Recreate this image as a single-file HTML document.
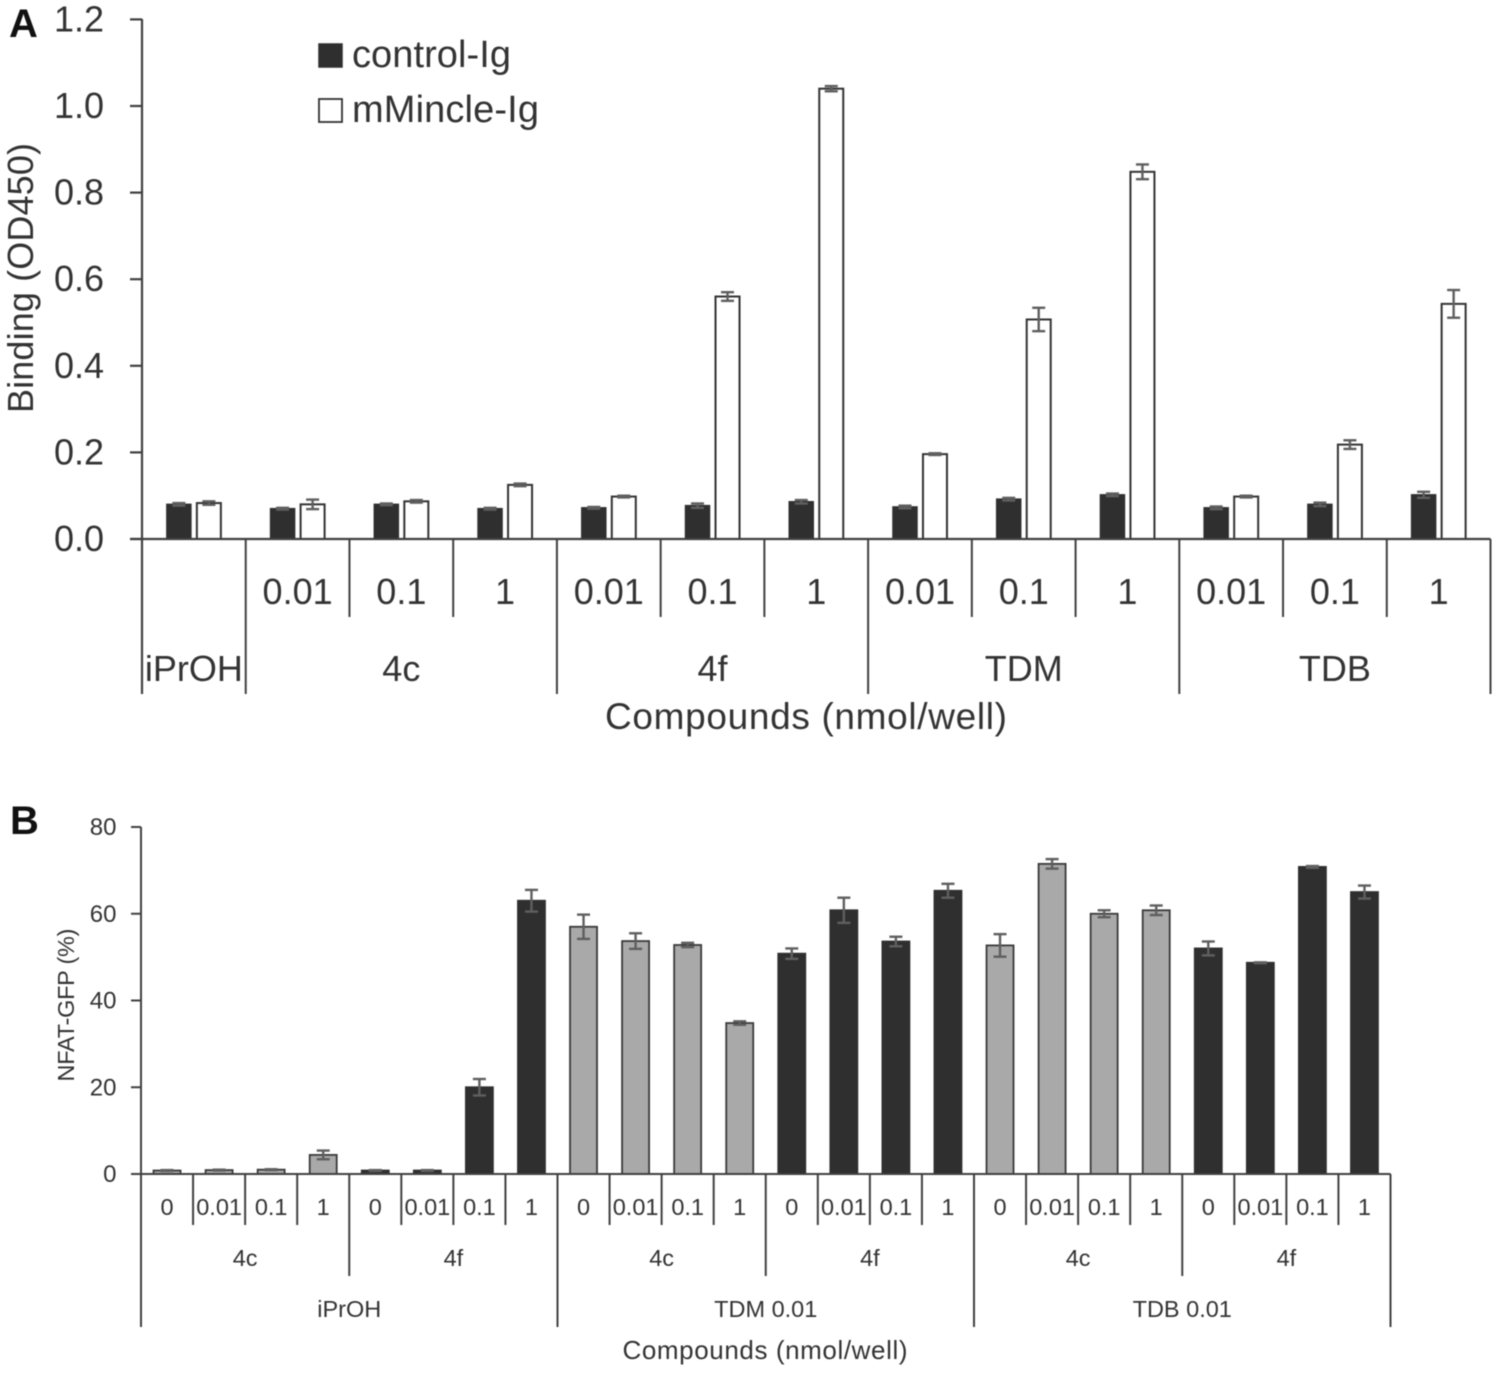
<!DOCTYPE html>
<html>
<head>
<meta charset="utf-8">
<title>Binding and NFAT-GFP charts</title>
<style>
html,body{margin:0;padding:0;background:#fff;}
svg{display:block;filter:blur(0.4px);}
text{font-family:"Liberation Sans",sans-serif;fill:#333;}
</style>
</head>
<body>
<svg id="chart" xmlns="http://www.w3.org/2000/svg" width="1499" height="1374" viewBox="0 0 1499 1374">
  <rect x="0" y="0" width="1499" height="1374" fill="#fff"/>
  <text x="9" y="37" font-size="40" font-weight="bold" style="fill:#111">A</text>
  <text x="10" y="834" font-size="40" font-weight="bold" style="fill:#111">B</text>
  <text transform="translate(33,278) rotate(-90)" text-anchor="middle" font-size="36" textLength="270">Binding (OD450)</text>
  <text x="806" y="729" text-anchor="middle" font-size="37" textLength="402">Compounds (nmol/well)</text>
  <text transform="translate(74,1005) rotate(-90)" text-anchor="middle" font-size="23.5" textLength="153">NFAT-GFP (%)</text>
  <text x="765" y="1359" text-anchor="middle" font-size="26" textLength="285">Compounds (nmol/well)</text>
  <rect x="319" y="44" width="23" height="23" fill="#2f2f2f" stroke="#2f2f2f" stroke-width="1.5"/>
  <text x="352" y="67" font-size="38" textLength="159">control-Ig</text>
  <rect x="319" y="99" width="23" height="23" fill="#fff" stroke="#333" stroke-width="1.8"/>
  <text x="352" y="122" font-size="38" textLength="187">mMincle-Ig</text>
</svg>
<script>
// Panel A data
const aConcLabels = ["", "0.01", "0.1", "1", "0.01", "0.1", "1", "0.01", "0.1", "1", "0.01", "0.1", "1"];
const aGroupLabels = ["iPrOH", "4c", "4f", "TDM", "TDB"];
const aGroupSizes = [1, 3, 3, 3, 3];
const aControl = [0.08, 0.07, 0.08, 0.07, 0.072, 0.077, 0.086, 0.074, 0.092, 0.102, 0.072, 0.08, 0.102];
const aControlErr = [0.003, 0.002, 0.002, 0.002, 0.002, 0.005, 0.004, 0.003, 0.003, 0.003, 0.003, 0.004, 0.007];
const aMincle = [0.083, 0.08, 0.087, 0.125, 0.098, 0.56, 1.04, 0.196, 0.507, 0.848, 0.098, 0.218, 0.543];
const aMincleErr = [0.004, 0.011, 0.003, 0.003, 0.002, 0.01, 0.006, 0.002, 0.027, 0.017, 0.002, 0.01, 0.032];
const aTicks = [0, 0.2, 0.4, 0.6, 0.8, 1.0, 1.2];

// Panel B data
const bConcLabels = ["0", "0.01", "0.1", "1", "0", "0.01", "0.1", "1", "0", "0.01", "0.1", "1", "0", "0.01", "0.1", "1", "0", "0.01", "0.1", "1", "0", "0.01", "0.1", "1"];
const bCompoundLabels = ["4c", "4f", "4c", "4f", "4c", "4f"];
const bTreatmentLabels = ["iPrOH", "TDM 0.01", "TDB 0.01"];
const bValues = [0.8, 0.9, 1, 4.4, 0.8, 0.8, 20, 63, 57, 53.7, 52.8, 34.8, 50.8, 60.8, 53.6, 65.3, 52.7, 71.5, 60, 60.8, 52, 48.7, 70.8, 65];
const bErrors = [0.1, 0.1, 0.1, 1, 0.1, 0.1, 1.9, 2.5, 2.8, 1.8, 0.5, 0.4, 1.2, 2.9, 1.1, 1.6, 2.6, 1.1, 0.8, 1.1, 1.6, 0.1, 0.2, 1.5];
const bTicks = [0, 20, 40, 60, 80];

const svg = document.getElementById('chart');
const NS = 'http://www.w3.org/2000/svg';
const AXIS = '#404040';
const ERR = '#5f5f5f';
const DARK = '#2f2f2f';
const GRAY = '#a9a9a9';

// Axis functions
const aLeft = 142, aRight = 1490.5, aBase = 539, aPerUnit = 433;
const bLeft = 141, bRight = 1390.5, bBase = 1174, bPerUnit = 4.3375;
function yA(v) { return aBase - v * aPerUnit; }
function xA(i) { return aLeft + i * (aRight - aLeft) / aControl.length; }
function yB(v) { return bBase - v * bPerUnit; }
function xB(i) { return bLeft + i * (bRight - bLeft) / bValues.length; }

function make(tag, attrs, text) {
  const el = document.createElementNS(NS, tag);
  for (const k in attrs) el.setAttribute(k, attrs[k]);
  if (text !== undefined) el.textContent = text;
  svg.appendChild(el);
  return el;
}
function line(x1, y1, x2, y2, color, width) {
  return make('line', { x1: x1, y1: y1, x2: x2, y2: y2, stroke: color, 'stroke-width': width });
}
function label(x, y, size, str, anchor) {
  return make('text', { x: x, y: y, 'font-size': size, 'text-anchor': anchor || 'middle' }, str);
}
function drawError(cx, top, bottom, cap, prefix) {
  const stem = line(cx, top, cx, bottom, ERR, 2.4);
  
  
  const up = line(cx - cap, top, cx + cap, top, ERR, 2.4);
  
  
  const low = line(cx - cap, bottom, cx + cap, bottom, ERR, 2.4);
  
  
}

// ===== Panel A =====
aTicks.forEach(function (t) {
  const tick = line(aLeft - 12, yA(t), aLeft, yA(t), AXIS, 2.2);
  
  
  const lab = label(104, yA(t) + 12, 36, t.toFixed(1), 'end');
  
  
});
aControl.forEach(function (v, i) {
  const center = (xA(i) + xA(i + 1)) / 2;
  const c = make('rect', { x: center - 27, y: yA(v), width: 24, height: aBase - yA(v), fill: DARK, stroke: DARK, 'stroke-width': 1.5 });
  
  
  drawError(center - 15, yA(v + aControlErr[i]), yA(v - aControlErr[i]), 6.5, 'control-ig');
  const m = aMincle[i];
  const w = make('rect', { x: center + 3, y: yA(m), width: 24, height: aBase - yA(m), fill: '#fff', stroke: '#333', 'stroke-width': 2 });
  
  
  drawError(center + 15, yA(m + aMincleErr[i]), yA(m - aMincleErr[i]), 6.5, 'mmincle-ig');
  if (aConcLabels[i]) {
    const lab = label(center, 604, 36, aConcLabels[i]);
    
    
  }
});
const aAxisY = line(aLeft, 19, aLeft, 694, AXIS, 2.2);


const aAxisX = line(aLeft - 12, aBase, aRight, aBase, AXIS, 2.2);


let aStart = 0;
aGroupSizes.forEach(function (n, g) {
  const end = aStart + n;
  const lab = label((xA(aStart) + xA(end)) / 2, 681, 36, aGroupLabels[g]);
  
  
  const sep = line(xA(end), aBase, xA(end), 694, AXIS, 2);
  
  
  for (let k = aStart + 1; k < end; k++) {
    const inner = line(xA(k), aBase, xA(k), 617, AXIS, 2);
    
    
  }
  aStart = end;
});

// ===== Panel B =====
bTicks.forEach(function (t) {
  const tick = line(bLeft - 10, yB(t), bLeft, yB(t), AXIS, 2);
  
  
  const lab = label(116.5, yB(t) + 8, 24, String(t), 'end');
  
  
});
bValues.forEach(function (v, i) {
  const center = (xB(i) + xB(i + 1)) / 2;
  const isCompound4c = Math.floor(i / 4) % 2 === 0;
  const bar = make('rect', { x: center - 13.5, y: yB(v), width: 27, height: bBase - yB(v), fill: isCompound4c ? GRAY : DARK, stroke: isCompound4c ? '#3a3a3a' : DARK, 'stroke-width': 1.8 });
  
  
  drawError(center, yB(v + bErrors[i]), yB(v - bErrors[i]), 6.5, isCompound4c ? 'bar-4c' : 'bar-4f');
  const lab = label(center, 1215, 23.5, bConcLabels[i]);
  
  
  if (i > 0 && i % 4 !== 0) {
    const sep = line(xB(i), bBase, xB(i), 1225, AXIS, 2);
    
    
  }
});
bCompoundLabels.forEach(function (s, g) {
  const lab = label((xB(g * 4) + xB(g * 4 + 4)) / 2, 1266, 23.5, s);
  
  
  if (g % 2 === 0) {
    const sep = line(xB(g * 4 + 4), bBase, xB(g * 4 + 4), 1276, AXIS, 2);
    
    
  }
});
bTreatmentLabels.forEach(function (s, g) {
  const lab = label((xB(g * 8) + xB(g * 8 + 8)) / 2, 1317, 23.5, s);
  
  
  const sep = line(xB(g * 8 + 8), bBase, xB(g * 8 + 8), 1327, AXIS, 2);
  
  
});
const bAxisY = line(bLeft, 827, bLeft, 1327, AXIS, 2);


const bAxisX = line(bLeft - 10, bBase, bRight, bBase, AXIS, 2);


</script>
</body>
</html>
